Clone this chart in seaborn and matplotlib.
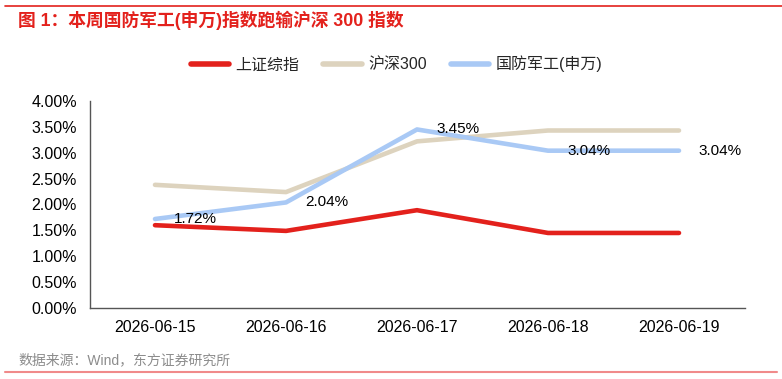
import numpy as np
import pandas as pd
import seaborn as sns
import matplotlib.pyplot as plt
from matplotlib.lines import Line2D

# chart data
dates = ["2026-06-15", "2026-06-16", "2026-06-17", "2026-06-18", "2026-06-19"]
sse_composite = [1.60, 1.49, 1.89, 1.45, 1.45]
csi300 = [2.38, 2.24, 3.22, 3.43, 3.43]
defense = [1.72, 2.04, 3.45, 3.04, 3.04]
series_names = ["上证综指", "沪深300", "国防军工(申万)"]
colors = ["#E3211C", "#DDD3BE", "#A9C9F5"]

title = "图 1：本周国防军工(申万)指数跑输沪深 300 指数"
source = "数据来源：Wind，东方证券研究所"

# long table for seaborn
df = pd.DataFrame({
    "date": dates * 3,
    "value": sse_composite + csi300 + defense,
    "series": [series_names[0]] * 5 + [series_names[1]] * 5 + [series_names[2]] * 5,
})

sns.set_style("white")
plt.rcParams["font.family"] = ["Liberation Sans", "Noto Sans CJK SC", "DejaVu Sans"]

fig = plt.figure(figsize=(7.82, 3.79), dpi=100)
ax = fig.add_axes([89.5 / 782, 1 - 308 / 379, 655 / 782, 207 / 379])

sns.lineplot(data=df, x="date", y="value", hue="series",
             hue_order=series_names, palette=colors,
             linewidth=3.3, ax=ax, legend=False, sort=False)

# labels on the defence index line
for i, v in enumerate(defense):
    ax.text(i + 0.31, v, f"{v:.2f}%", ha="center", va="center",
            fontsize=11, color="black")

ax.set_xlim(-0.5, 4.5)
ax.set_ylim(0, 4)
ax.set_yticks(np.arange(0, 4.01, 0.5))
ax.set_yticklabels([f"{t:.2f}%" for t in np.arange(0, 4.01, 0.5)])
ax.set_xticks(range(len(dates)))
ax.set_xticklabels(dates)
ax.set_xticks(np.arange(0.5, 4.5, 1), minor=True)
ax.tick_params(axis="both", which="major", length=0, labelsize=11.5, colors="black")
ax.tick_params(axis="x", which="major", pad=9)
ax.tick_params(axis="y", which="major", pad=9)
ax.tick_params(axis="x", which="minor", direction="in", length=5, color="#555555")
ax.set_xlabel("")
ax.set_ylabel("")
for side in ["top", "right"]:
    ax.spines[side].set_visible(False)
for side in ["left", "bottom"]:
    ax.spines[side].set_color("#555555")
    ax.spines[side].set_linewidth(1)

# legend
handles = [Line2D([0], [0], color=c, lw=4, solid_capstyle="round") for c in colors]
fig.legend(handles, series_names, loc="center", bbox_to_anchor=(0.507, 0.831),
           ncol=3, frameon=False, fontsize=11.5, handlelength=2.4,
           handletextpad=0.4, columnspacing=1.5)

# title, source and red rules
fig.text(18 / 782, 1 - 20 / 379, title, color="#E3211C", fontsize=12.8,
         fontweight="bold", va="center", ha="left")
fig.text(18 / 782, 1 - 360 / 379, source, color="#8C8C8C", fontsize=10,
         va="center", ha="left")
fig.add_artist(Line2D([5 / 782, 1], [1 - 6 / 379] * 2, color="#E3211C", lw=1.2))
fig.add_artist(Line2D([5 / 782, 777 / 782], [1 - 372 / 379] * 2, color="#F08A8A", lw=1.5))

fig.savefig("out.png", dpi=100)
